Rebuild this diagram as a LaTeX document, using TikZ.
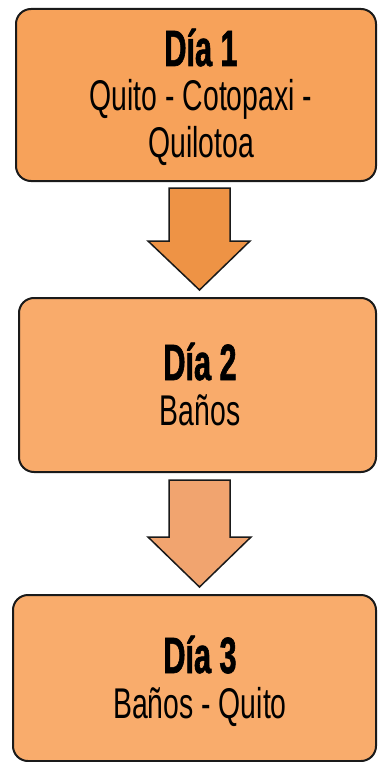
\documentclass[tikz,border=0pt]{standalone}
\usepackage{fontspec}
\newfontfamily\regf[FakeStretch=0.66]{Liberation Sans}
\newfontfamily\boldf[FakeStretch=0.60,FakeBold=1.2]{Liberation Sans Bold}
\definecolor{boxA}{HTML}{F7A25A}
\definecolor{boxB}{HTML}{F9AB6B}
\definecolor{boxC}{HTML}{F9AC6C}
\definecolor{arrA}{HTML}{EE9345}
\definecolor{arrB}{HTML}{F1A46F}
\definecolor{edge}{HTML}{1A1A1A}
\tikzset{
  daybox/.style={draw=edge, line width=2pt, rounded corners=15pt, inner sep=0pt},
  title/.style={anchor=base, inner sep=0pt, font=\boldf\fontsize{51}{51}\selectfont},
  place/.style={anchor=base, inner sep=0pt, font=\regf\fontsize{43}{47}\selectfont},
  blockarrow/.style={draw=edge, line width=1.5pt, line join=miter},
}
\begin{document}
\begin{tikzpicture}[x=1pt,y=-1pt]
\useasboundingbox (0,0) rectangle (377,762);
% boxes
\node[daybox, fill=boxA, minimum width=360pt, minimum height=172pt] (b1) at (196,95) {};
\node[daybox, fill=boxB, minimum width=357pt, minimum height=174pt] (b2) at (197.5,385) {};
\node[daybox, fill=boxC, minimum width=363pt, minimum height=166pt] (b3) at (194.5,678) {};
% texts
\node[title] (t1) at (201,66) {Día 1};
\node[place] (p1a) at (201,111) {Quito - Cotopaxi -};
\node[place] (p1b) at (201,158) {Quilotoa};
\node[title] (t2) at (200,380) {Día 2};
\node[place] (p2) at (200,425) {Baños};
\node[title] (t3) at (200,673) {Día 3};
\node[place] (p3) at (200,718) {Baños - Quito};
% block arrows
\coordinate (a1) at (199.5,188);
\coordinate (a2) at (199.5,480);
\draw[blockarrow, fill=arrA] (a1) ++(-30.5,0) -- ++(61,0) -- ++(0,53) -- ++(20,0)
  -- ++(-50.5,49) -- ++(-51.5,-49) -- ++(21,0) -- cycle;
\draw[blockarrow, fill=arrB] (a2) ++(-30.5,0) -- ++(61,0) -- ++(0,57) -- ++(21,0)
  -- ++(-51.5,50) -- ++(-51.5,-50) -- ++(21,0) -- cycle;
\end{tikzpicture}
\end{document}
